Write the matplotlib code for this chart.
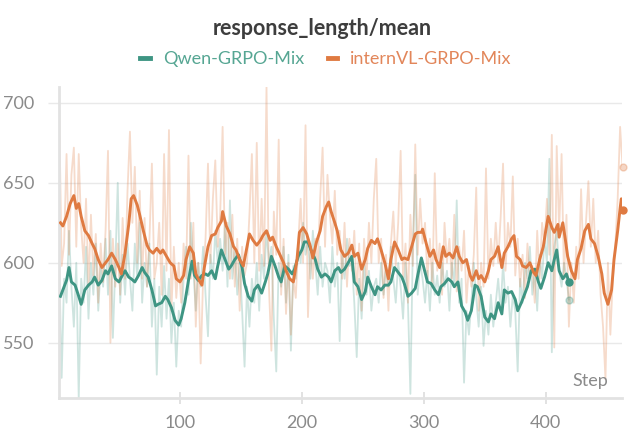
import matplotlib.pyplot as plt
import matplotlib.lines as mlines
import numpy as np

plt.rcParams["font.family"] = ["Lato", "DejaVu Sans"]

TITLE = "response_length/mean"
SERIES = ["Qwen-GRPO-Mix", "internVL-GRPO-Mix"]

# raw (unsmoothed) values, one every 2 steps
QWEN_RAW_STEPS = list(range(1, 420, 2))
QWEN_RAW = [
    600, 528, 590, 575, 620, 585, 560, 600, 515, 590,
    575, 610, 565, 600, 580, 612, 570, 598, 585, 615,
    580, 620, 553, 598, 650, 575, 605, 580, 612, 590,
    570, 612, 590, 625, 575, 600, 585, 612, 560, 590,
    530, 585, 560, 598, 565, 590, 550, 575, 535, 570,
    560, 590, 610, 580, 625, 595, 570, 600, 585, 610,
    580, 554, 605, 590, 620, 600, 615, 595, 625, 585,
    639, 590, 610, 580, 600, 570, 535, 585, 560, 590,
    575, 600, 570, 605, 590, 620, 600, 610, 565, 532,
    600, 585, 610, 575, 605, 545, 598, 590, 612, 600,
    625, 605, 615, 590, 620, 600, 580, 610, 585, 600,
    595, 575, 610, 585, 600, 551, 605, 590, 615, 598,
    600, 575, 541, 590, 565, 600, 580, 595, 570, 585,
    590, 575, 600, 580, 598, 585, 610, 590, 575, 600,
    585, 565, 600, 575, 518, 610, 655, 580, 600, 590,
    575, 595, 570, 600, 580, 592, 575, 600, 585, 595,
    570, 600, 585, 639, 575, 590, 525, 570, 555, 575,
    600, 578, 560, 585, 548, 570, 555, 580, 560, 575,
    590, 570, 600, 575, 585, 560, 580, 570, 532, 590,
    575, 600, 590, 610, 580, 595, 570, 605, 590, 615,
    600, 665, 544, 610, 620, 595, 585, 600, 590, 577,
]

INTERN_RAW_STEPS = list(range(1, 464, 2))
INTERN_RAW = [
    695, 598, 612, 668, 605, 655, 672, 610, 668, 622,
    600, 640, 585, 630, 592, 618, 575, 612, 588, 620,
    670, 550, 615, 585, 612, 580, 628, 590, 645, 682,
    625, 660, 600, 645, 590, 628, 585, 615, 662, 590,
    600, 625, 580, 668, 595, 683, 570, 610, 578, 600,
    575, 612, 590, 667, 590, 625, 560, 600, 537, 590,
    615, 662, 600, 640, 664, 610, 630, 685, 605, 625,
    590, 630, 585, 615, 570, 610, 592, 600, 630, 668,
    600, 675, 595, 640, 598, 710, 585, 545, 632, 605,
    677, 580, 615, 568, 600, 555, 590, 578, 612, 640,
    600, 686, 566, 612, 590, 615, 598, 640, 672, 610,
    655, 630, 612, 645, 605, 620, 590, 625, 585, 615,
    595, 620, 580, 612, 570, 615, 590, 625, 600, 640,
    665, 600, 615, 578, 605, 570, 612, 632, 598, 625,
    670, 590, 612, 575, 630, 598, 674, 605, 640, 612,
    625, 590, 615, 585, 656, 595, 612, 580, 625, 600,
    615, 590, 630, 582, 610, 595, 620, 575, 598, 585,
    605, 647, 570, 600, 585, 659, 590, 615, 598, 625,
    600, 628, 662, 595, 625, 610, 654, 592, 615, 585,
    605, 578, 612, 590, 598, 575, 620, 590, 625, 612,
    640, 605, 680, 547, 673, 620, 668, 590, 630, 560,
    600, 575, 610, 590, 646, 600, 625, 651, 610, 640,
    600, 620, 580, 560, 527, 600, 555, 590, 610, 640,
    685, 660,
]

# smoothed curves
QWEN_SMOOTH_STEPS = [
    2, 4, 7, 9, 11, 14, 17, 19, 22, 25, 28, 30, 33, 36, 39, 41, 44, 47, 50, 52,
    55, 58, 60, 63, 66, 69, 71, 74, 77, 80, 82, 85, 88, 90, 93, 96, 99, 101, 104, 107,
    110, 112, 115, 118, 121, 123, 126, 129, 131, 134, 137, 140, 142, 145, 148, 151, 153, 156, 159, 161,
    164, 167, 170, 172, 175, 178, 181, 183, 186, 189, 192, 194, 197, 200, 202, 205, 208, 211, 213, 216,
    219, 222, 224, 227, 230, 232, 235, 238, 241, 243, 246, 249, 252, 254, 257, 260, 262, 265, 268, 271,
    273, 276, 279, 282, 284, 287, 290, 293, 295, 298, 301, 303, 306, 309, 312, 314, 317, 320, 323, 325,
    328, 331, 334, 336, 339, 342, 344, 347, 350, 353, 355, 358, 361, 364, 366, 369, 372, 375, 377, 380,
    383, 385, 388, 391, 394, 396, 399, 402, 405, 407, 409, 411, 414, 417, 419,
]
QWEN_SMOOTH = [
    579, 583, 589, 597, 588, 586, 579, 574, 583, 586, 588, 591, 586, 589, 595, 593, 598, 590, 588, 591,
    595, 591, 590, 588, 592, 597, 594, 591, 583, 573, 574, 575, 579, 577, 572, 564, 561, 565, 575, 589,
    601, 592, 589, 592, 593, 592, 595, 590, 598, 608, 602, 596, 598, 602, 605, 597, 587, 579, 576, 583,
    586, 581, 588, 593, 604, 598, 591, 588, 598, 596, 593, 596, 604, 608, 613, 613, 607, 602, 596, 591,
    593, 591, 588, 595, 597, 594, 596, 600, 604, 588, 585, 577, 582, 591, 585, 580, 585, 583, 586, 586,
    588, 597, 594, 591, 587, 579, 581, 584, 592, 603, 594, 588, 587, 583, 580, 585, 587, 590, 588, 585,
    588, 573, 569, 564, 570, 586, 585, 579, 566, 563, 568, 565, 575, 568, 583, 581, 582, 577, 570, 575,
    581, 585, 595, 596, 588, 584, 591, 600, 595, 602, 608, 595, 590, 593, 588,
]

INTERN_SMOOTH_STEPS = [
    2, 4, 7, 10, 13, 15, 17, 19, 22, 25, 28, 30, 33, 36, 39, 41, 44, 47, 50, 52,
    55, 58, 60, 62, 65, 67, 70, 73, 75, 78, 81, 84, 86, 89, 92, 95, 97, 100, 103, 105,
    108, 111, 113, 115, 118, 120, 123, 126, 129, 131, 134, 135, 138, 141, 144, 146, 149, 152, 155, 157,
    160, 163, 166, 168, 171, 174, 176, 179, 182, 185, 187, 190, 193, 196, 198, 201, 204, 207, 209, 212,
    215, 217, 220, 222, 224, 227, 229, 232, 235, 238, 241, 243, 246, 249, 252, 254, 257, 260, 262, 265,
    268, 271, 273, 276, 279, 282, 284, 287, 290, 293, 295, 298, 299, 302, 305, 308, 310, 313, 316, 318,
    321, 324, 327, 329, 332, 335, 338, 340, 343, 345, 347, 350, 353, 355, 358, 361, 364, 366, 369, 372,
    374, 376, 379, 381, 384, 387, 390, 392, 395, 398, 400, 402, 405, 407, 410, 411, 414, 416, 418, 421,
    424, 426, 429, 432, 435, 437, 440, 443, 446, 448, 451, 454, 456, 459, 461, 462, 463,
]
INTERN_SMOOTH = [
    625, 623, 629, 637, 642, 634, 637, 629, 620, 617, 612, 609, 602, 597, 600, 602, 606, 602, 597, 593,
    606, 624, 640, 642, 636, 630, 620, 611, 608, 606, 609, 606, 608, 604, 600, 598, 590, 588, 592, 602,
    610, 606, 593, 590, 586, 597, 610, 617, 618, 622, 626, 632, 623, 618, 610, 608, 602, 598, 610, 618,
    614, 611, 614, 617, 620, 614, 616, 610, 605, 600, 595, 590, 588, 602, 619, 622, 618, 610, 603, 613,
    620, 629, 635, 638, 632, 625, 620, 608, 604, 606, 611, 604, 606, 596, 602, 609, 614, 612, 615, 608,
    600, 590, 602, 613, 608, 602, 603, 602, 610, 618, 619, 619, 621, 612, 604, 608, 602, 597, 610, 604,
    606, 603, 610, 604, 600, 602, 592, 589, 595, 590, 592, 588, 595, 602, 604, 610, 597, 606, 610, 615,
    617, 604, 602, 598, 597, 600, 594, 592, 602, 610, 620, 629, 622, 619, 624, 616, 625, 615, 604, 595,
    590, 602, 609, 620, 624, 615, 612, 604, 593, 581, 574, 583, 602, 620, 634, 640, 633,
]

TEAL = "#3e9583"
ORANGE = "#df7a41"
TEAL_LABEL = "#56a693"
ORANGE_LABEL = "#e2865a"
GRID = "#e9e9e9"
TEXT_GRAY = "#8a8a8a"


def main():
    fig = plt.figure(figsize=(6.39, 4.44), dpi=100)
    ax = fig.add_axes([0.0923, 0.1036, 0.881, 0.700])

    # faint raw traces
    ax.plot(QWEN_RAW_STEPS, QWEN_RAW, color=TEAL, alpha=0.25, lw=1.3, zorder=2)
    ax.plot(INTERN_RAW_STEPS, INTERN_RAW, color=ORANGE, alpha=0.27, lw=1.3, zorder=2)
    ax.plot(QWEN_RAW_STEPS[-1:], QWEN_RAW[-1:], "o", color=TEAL, alpha=0.3, ms=5, zorder=3, clip_on=False)
    ax.plot(INTERN_RAW_STEPS[-1:], INTERN_RAW[-1:], "o", color=ORANGE, alpha=0.3, ms=5, zorder=3, clip_on=False)

    # smoothed lines
    ax.plot(QWEN_SMOOTH_STEPS, QWEN_SMOOTH, color=TEAL, lw=2.1, zorder=4)
    ax.plot(INTERN_SMOOTH_STEPS, INTERN_SMOOTH, color=ORANGE, lw=2.1, zorder=5)
    ax.plot(QWEN_SMOOTH_STEPS[-1:], QWEN_SMOOTH[-1:], "o", color=TEAL, ms=5, zorder=6, clip_on=False)
    ax.plot(INTERN_SMOOTH_STEPS[-1:], INTERN_SMOOTH[-1:], "o", color=ORANGE, ms=5, zorder=6, clip_on=False)

    ax.set_xlim(0.8, 462.5)
    ax.set_ylim(515.4, 709.8)
    ax.set_xticks([100, 200, 300, 400])
    ax.set_yticks([550, 600, 650, 700])

    ax.yaxis.grid(True, color=GRID, lw=1.0, zorder=0)
    ax.set_axisbelow(True)
    for side in ("top", "right"):
        ax.spines[side].set_visible(False)
    for side in ("left", "bottom"):
        ax.spines[side].set_color("#e2e2e2")
        ax.spines[side].set_linewidth(2.0)

    ax.tick_params(axis="x", direction="inout", length=9, width=1.2, color="#dddddd",
                   labelsize=13, labelcolor=TEXT_GRAY, pad=8)
    ax.tick_params(axis="y", direction="out", length=8, width=1.0, color=GRID,
                   labelsize=13, labelcolor=TEXT_GRAY, pad=10)

    ax.text(0.975, 0.03, "Step", transform=ax.transAxes, ha="right", va="bottom",
            fontsize=13, color=TEXT_GRAY)

    fig.text(0.505, 0.935, TITLE, ha="center", va="center", fontsize=15.5,
             fontweight="bold", color="#3d3d3d")

    handles = [
        mlines.Line2D([], [], color=TEAL, lw=3.5, label=SERIES[0]),
        mlines.Line2D([], [], color=ORANGE, lw=3.5, label=SERIES[1]),
    ]
    leg = fig.legend(handles=handles, loc="center", bbox_to_anchor=(0.51, 0.866), ncol=2,
                     frameon=False, fontsize=13, handlelength=0.55, handletextpad=0.7,
                     columnspacing=1.3)
    for txt, col in zip(leg.get_texts(), [TEAL_LABEL, ORANGE_LABEL]):
        txt.set_color(col)

    fig.savefig("out.png", dpi=100)


if __name__ == "__main__":
    main()
